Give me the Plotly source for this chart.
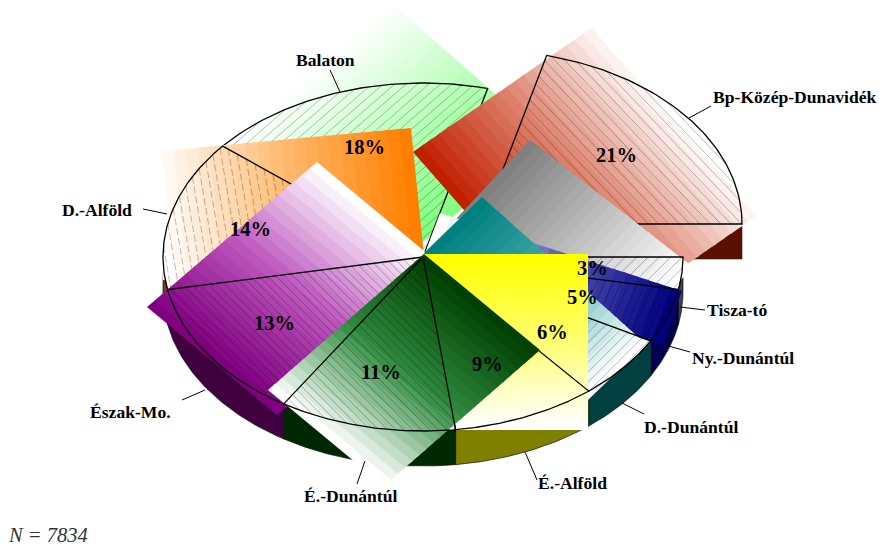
import numpy as np
import plotly.graph_objects as go

# ---- data ----
categories = ["Bp-Közép-Dunavidék", "Tisza-tó", "Ny.-Dunántúl", "D.-Dunántúl", "É.-Alföld",
              "É.-Dunántúl", "Észak-Mo.", "D.-Alföld", "Balaton"]
shares = [21, 3, 5, 6, 9, 11, 13, 14, 18]
sample_note = "N = 7834"

# ---- styling and layout, separate from the data ----
top_colors = ["#C02000", "#808080", "#000080", "#008080", "#FFFF00",
              "#004000", "#800080", "#FF8000", "#80FF80"]
mid_colors = ["#DE8570", "#BEBEBE", "#5C5CBC", "#50B0B0", "#FFFF70",
              "#2E8B3E", "#BE58BE", "#FFBB70", "#BFFFBF"]
side_colors = ["#5C1000", "#404040", "#000050", "#004040", "#808000",
               "#002800", "#400040", "#804000", "#408040"]
# gradient parallelograms: corner, vector to the white edge, vector across
grad_boxes = [
    ((413, 152), (187, -130), (165, 188)),
    ((424, 253), (163, 127), (106, -113)),
    ((682, 291), (-242, -78), (-20, 54)),
    ((424, 253), (164, 147), (58, -56)),
    ((424, 254), (0, 176), (164, 0)),
    ((424, 254), (-156, 136), (116, 96)),
    ((147, 307), (170, -145), (130, 108)),
    ((411, 128), (-261, 24), (13, 128)),
    ((545, 138), (-157, -138), (-170, 145)),
]
label_xy = [(794, 97), (737, 310), (743, 358), (691, 427), (572, 483),
            (350, 496), (130, 412), (97, 210), (325, 60)]
pct_xy = [(616, 155), (592, 268), (582, 297), (552, 332), (487, 364),
          (381, 372), (274, 323), (250, 229), (364, 147)]
leaders = [((711, 106), (689, 118)), ((705, 310), (680, 307)), ((690, 352), (665, 345)),
           ((644, 414), (622, 403)), ((537, 480), (525, 452)), ((357, 484), (365, 461)),
           ((182, 400), (205, 390)), ((143, 209), (167, 214)), ((330, 70), (340, 92))]
# hatch: direction (dx, dy), perpendicular spacing, dash
hatches = [((1, 1.05), 7.5, "solid"), ((1, -1), 8, "solid"), ((-0.45, 1), 7.5, "solid"),
           ((1, -1), 7, "solid"), None, ((1, 1), 6, "solid"), ((1, 1), 6, "solid"),
           ((0.17, 1), 8, "7px,3px"), ((1, -0.87), 7.5, "solid")]
paint_order = [8, 0, 7, 6, 1, 2, 3, 4, 5]
CX, CY, RX, RY, DEPTH = 423, 257, 260, 174, 35
START_DEG = 75.6
BP_OFFSET = (59, -33)
BANDS = 22
FONT = "Liberation Serif"

edges = START_DEG - np.concatenate([[0], np.cumsum(shares)]) * 3.6


def arc(i, n=70, cx=CX, cy=CY):
    t = np.radians(np.linspace(edges[i], edges[i + 1], n))
    return cx + RX * np.cos(t), cy - RY * np.sin(t)


def rgb(c):
    return np.array([int(c[k:k + 2], 16) for k in (1, 3, 5)], float)


def mix(i, f):
    a, m, w = rgb(top_colors[i]), rgb(mid_colors[i]), np.array([255.0] * 3)
    v = a + (m - a) * f * 2 if f < 0.5 else m + (w - m) * (f - 0.5) * 2
    return "rgb(%d,%d,%d)" % tuple(np.round(v))


fig = go.Figure()


def poly(xs, ys, fill=None, line=None, width=1, dash="solid"):
    fig.add_trace(go.Scatter(
        x=list(xs), y=list(ys), mode="lines", hoverinfo="skip", showlegend=False,
        fill="toself" if fill else "none", fillcolor=fill,
        line=dict(color=line or "rgba(0,0,0,0)", width=width if line else 0, dash=dash)))


def gradient(i):
    (ox, oy), (ux, uy), (vx, vy) = grad_boxes[i]
    for k in range(BANDS):
        a, b, f = k / BANDS, min(1, (k + 1) / BANDS + 0.012), k / (BANDS - 1)
        x0, y0 = ox + ux * a, oy + uy * a
        x1, y1 = ox + ux * b, oy + uy * b
        poly([x0, x1, x1 + vx, x0 + vx, x0], [y0, y1, y1 + vy, y0 + vy, y0], fill=mix(i, f))


def hatch(i, px, py):
    if hatches[i] is None:
        return
    (dx, dy), gap, dash = hatches[i]
    d = np.array([dx, dy], float) / np.hypot(dx, dy)
    n = np.array([-d[1], d[0]])
    pts = np.column_stack([px, py])
    off = pts @ n
    xs, ys = [], []
    for o in np.arange(np.ceil(off.min() / gap) * gap, off.max(), gap):
        s = []
        for a, b, oa, ob in zip(pts[:-1], pts[1:], off[:-1], off[1:]):
            if (oa - o) * (ob - o) < 0:
                s.append((a + (b - a) * (o - oa) / (ob - oa)) @ d)
        s = sorted(s)
        for p, q in zip(s[::2], s[1::2]):
            for e in (p, q):
                xs.append(n[0] * o + d[0] * e)
                ys.append(n[1] * o + d[1] * e)
            xs.append(None)
            ys.append(None)
    fig.add_trace(go.Scatter(x=xs, y=ys, mode="lines", hoverinfo="skip", showlegend=False,
                             line=dict(color="rgba(0,0,0,0.38)", width=0.7, dash=dash)))


# Rim of the disc
for i in range(len(shares)):
    if i == 0:
        ax, ay = CX + BP_OFFSET[0], CY + BP_OFFSET[1]
        ex = ax + RX
        poly([ax, ex, ex, ax, ax], [ay, ay, ay + DEPTH, ay + DEPTH, ay], fill=side_colors[0], line="#222", width=0.6)
        continue
    lo, hi = min(edges[i], edges[i + 1]), max(edges[i], edges[i + 1])
    lo, hi = max(lo, -180), min(hi, 0)
    if lo >= hi:
        continue
    t = np.radians(np.linspace(hi, lo, 50))
    x, y = CX + RX * np.cos(t), CY - RY * np.sin(t)
    poly(np.r_[x, x[::-1], x[0]], np.r_[y, y[::-1] + DEPTH, y[0]], fill=side_colors[i], line="#111", width=0.7)

# Gradient panels, hatching and outlines in back-to-front order
for i in paint_order:
    ox, oy = BP_OFFSET if i == 0 else (0, 0)
    ax, ay = arc(i, cx=CX + ox, cy=CY + oy)
    px = np.r_[CX + ox, ax, CX + ox]
    py = np.r_[CY + oy, ay, CY + oy]
    gradient(i)
    hatch(i, px, py)
    poly(px, py, line="#000000", width=1.3)

# Leader lines
lx, ly = [], []
for a, b in leaders:
    lx += [a[0], b[0], None]
    ly += [a[1], b[1], None]
fig.add_trace(go.Scatter(x=lx, y=ly, mode="lines", hoverinfo="skip", showlegend=False,
                         line=dict(color="#000", width=1)))

ann = []
for name, v, lab, pc in zip(categories, shares, label_xy, pct_xy):
    ann.append(dict(x=lab[0], y=lab[1], text="<b>%s</b>" % name, showarrow=False,
                    font=dict(family=FONT, size=17.6, color="#000")))
    ann.append(dict(x=pc[0], y=pc[1], text="<b>%d%%</b>" % v, showarrow=False,
                    font=dict(family=FONT, size=20.5, color="#000")))
ann.append(dict(x=6, y=535, text="<i>%s</i>" % sample_note, showarrow=False, xanchor="left",
                font=dict(family=FONT, size=20.5, color="#333")))

fig.update_layout(
    width=879, height=547, margin=dict(l=0, r=0, t=0, b=0),
    paper_bgcolor="white", plot_bgcolor="white", annotations=ann,
    xaxis=dict(range=[0, 879], visible=False, fixedrange=True),
    yaxis=dict(range=[547, 0], visible=False, fixedrange=True))
fig.write_html("out.html", config=dict(displayModeBar=False),
               post_script="document.body.style.margin='0';document.body.style.overflow='hidden';")
